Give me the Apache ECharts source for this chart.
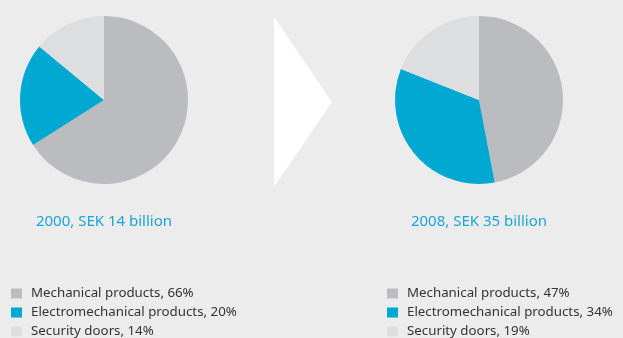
<!DOCTYPE html>
<html><head><meta charset="utf-8">
<script src="https://cdn.jsdelivr.net/npm/echarts@6/dist/echarts.min.js"></script>
<style>html,body{margin:0;padding:0;background:#ececec}#c{width:623px;height:338px}</style>
</head><body><div id="c"></div>
<script>
const categories = ["Mechanical products", "Electromechanical products", "Security doors"];
const values2000 = [66, 20, 14];
const values2008 = [47, 34, 19];
const titles = ["2000, SEK 14 billion", "2008, SEK 35 billion"];
const colors = ["#bbbcbf", "#00a8d2", "#dddee0"];

const data2000 = categories.map((c, i) => ({ name: c + ", " + values2000[i] + "%", value: values2000[i] }));
const data2008 = categories.map((c, i) => ({ name: c + ", " + values2008[i] + "%", value: values2008[i] }));

const chart = echarts.init(document.getElementById('c'));
const font = "'Noto Sans', sans-serif";
const legendCommon = {
  orient: 'vertical', icon: 'rect', itemWidth: 11, itemHeight: 10, itemGap: 6,
  top: 287, padding: 0, selectedMode: false,
  textStyle: { fontFamily: font, fontSize: 13.3, color: '#333333', padding: [0, 0, 0, 4] }
};
const titleStyle = { fontFamily: font, fontSize: 15, fontWeight: 'normal', color: '#1ba5d7' };
chart.setOption({
  backgroundColor: '#ececec',
  animation: false,
  color: colors,
  title: [
    { text: titles[0], left: 104, top: 214, padding: 0, textAlign: 'center', textStyle: titleStyle },
    { text: titles[1], left: 479, top: 214, padding: 0, textAlign: 'center', textStyle: titleStyle }
  ],
  legend: [
    Object.assign({}, legendCommon, { left: 11, data: data2000.map(d => d.name) }),
    Object.assign({}, legendCommon, { left: 387, data: data2008.map(d => d.name) })
  ],
  graphic: [
    { type: 'polygon', shape: { points: [[274, 17], [332, 102], [274, 187]] }, style: { fill: '#ffffff' }, silent: true }
  ],
  series: [
    { type: 'pie', center: [104, 100], radius: 84, startAngle: 90, clockwise: true, label: { show: false }, labelLine: { show: false }, silent: true, data: data2000 },
    { type: 'pie', center: [479, 100], radius: 84, startAngle: 90, clockwise: true, label: { show: false }, labelLine: { show: false }, silent: true, data: data2008 }
  ]
});
</script></body></html>
